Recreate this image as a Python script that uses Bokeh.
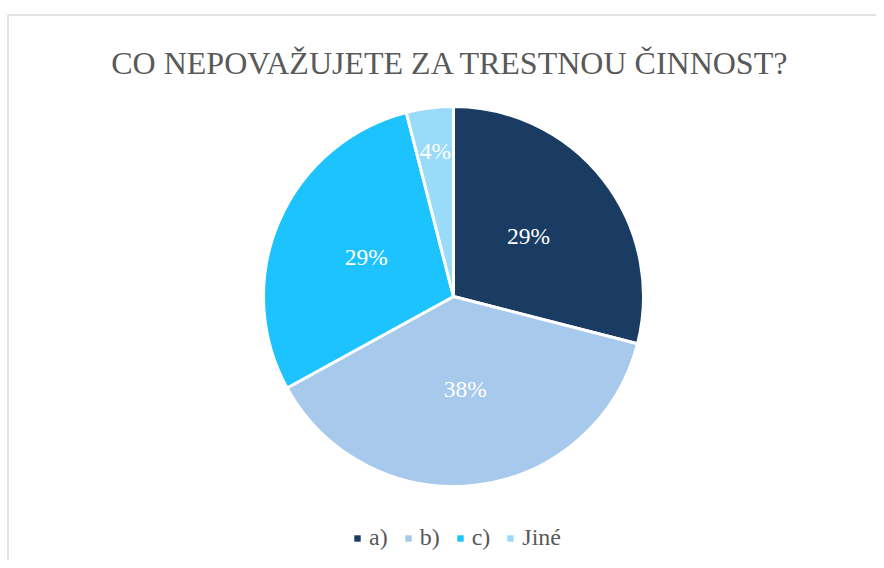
import math
from bokeh.plotting import figure
from bokeh.models import Range1d, Legend, LegendItem, Label
from bokeh.core.properties import value
from bokeh.embed import file_html
from bokeh.resources import INLINE

title_text = "CO NEPOVAŽUJETE ZA TRESTNOU ČINNOST?"
categories = ["a)", "b)", "c)", "Jiné"]
shares = [29, 38, 29, 4]
colors = ["#1A3C63", "#A7C9EB", "#1CC3FF", "#99DBF8"]

W, H = 876, 560
p = figure(width=W, height=H, output_backend="svg", toolbar_location=None,
           x_range=Range1d(0, W), y_range=Range1d(0, H), min_border=0)
p.axis.visible = False
p.xgrid.visible = False
p.ygrid.visible = False
p.outline_line_color = None
p.background_fill_color = "white"
p.border_fill_color = "white"

# chart border (left and top edge visible)
p.segment(x0=[7.5, 7.5], y0=[0, 545.5], x1=[7.5, W], y1=[545.5, 545.5],
          line_color="#D9D9D9", line_width=1.5)

cx, cy, R = 453, 264, 190
total = sum(shares)
starts, ends, lx, ly, labels = [], [], [], [], []
cum = 0.0
for s in shares:
    a0 = cum / total * 2 * math.pi
    cum += s
    a1 = cum / total * 2 * math.pi
    starts.append(math.pi / 2 - a1)
    ends.append(math.pi / 2 - a0)
    mid = (a0 + a1) / 2
    f = 0.5 if s > 10 else 0.76
    lx.append(cx + f * R * math.sin(mid))
    ly.append(cy + 2 + f * R * math.cos(mid))
    labels.append(f"{s}%")

for i in range(len(shares)):
    p.wedge(x=cx, y=cy, radius=R, start_angle=starts[i], end_angle=ends[i],
            fill_color=colors[i], line_color="white", line_width=3)

items = []
for i in range(len(shares)):
    # zero-size swatch proxy (hidden under the pie) used only for the legend
    proxy = p.quad(left=[cx], right=[cx], top=[cy], bottom=[cy],
                   fill_color=colors[i], line_color=None)
    items.append(LegendItem(label=categories[i], renderers=[proxy]))

p.text(x=lx, y=ly, text=labels, text_color="white", text_font=value("Liberation Serif"),
       text_font_size="23.5px", text_align="center", text_baseline="middle")

p.add_layout(Label(x=450, y=H - 62, text=title_text, text_align="center",
                   text_baseline="alphabetic", text_font="Liberation Serif",
                   text_font_size="32px", text_color="#595959"))

legend = Legend(items=items, orientation="horizontal", location=(353, 9),
                glyph_width=8, glyph_height=8, label_standoff=8, spacing=16,
                label_width=0, padding=0, margin=0, label_text_font="Liberation Serif",
                label_text_font_size="24px", label_text_color="#595959",
                background_fill_alpha=0, border_line_alpha=0)
p.add_layout(legend, "center")

open("out.html", "w").write(file_html(p, INLINE))
